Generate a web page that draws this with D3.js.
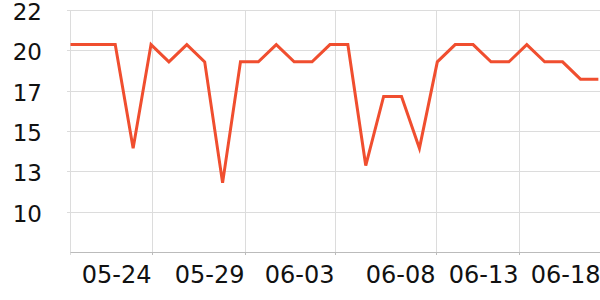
<!DOCTYPE html>
<html>
<head>
<meta charset="utf-8">
<script src="https://cdn.jsdelivr.net/npm/d3@7"></script>
<style>
  body { margin: 0; background: #fff; }
  svg text { font-family: "DejaVu Sans", sans-serif; fill: #111; }
  .ylab { font-size: 23px; }
  .xlab { font-size: 24px; }
</style>
</head>
<body>
<svg class="chart" width="600" height="300"></svg>
<script>
// one value per step, the first one sits left of the plot and gets clipped
var values = [20, 20, 20, 20, 14, 20, 19, 20, 19, 12, 19, 19, 20, 19, 19, 20,
              20, 13, 17, 17, 14, 19, 20, 20, 19, 19, 20, 19, 19, 18, 18];

var xTicks = [5.03, 10.23, 15.26, 20.9, 25.54, 30.15];
var xTickLabels = ['05-24', '05-29', '06-03', '06-08', '06-13', '06-18'];

var yTicks = [8, 10.33, 12.67, 15, 17.33, 19.67, 22];
var yTickLabels = ['', '10', '13', '15', '17', '20', '22'];

(function() {
  var svg = d3.select('.chart');
  var left = 70.5, right = 607.3, top = 10, bottom = 252;

  var x = d3.scaleLinear().domain([0.5, 30.5]).range([left, right]);
  var y = d3.scaleLinear().domain([8, 22]).range([bottom, top]);

  svg.append('defs').append('clipPath')
      .attr('id', 'plot')
    .append('rect')
      .attr('x', left)
      .attr('y', 0)
      .attr('width', 600 - left)
      .attr('height', bottom);

  // horizontal grid + labels
  var yAxis = svg.append('g');
  yTicks.forEach(function(t, i) {
    if (i === 0) return;
    var yy = Math.round(y(t)) + 0.5;
    yAxis.append('line')
      .attr('x1', 67).attr('x2', 600)
      .attr('y1', yy).attr('y2', yy)
      .attr('stroke', '#dcdcdc');
    yAxis.append('text')
      .attr('class', 'ylab')
      .attr('x', 42)
      .attr('y', yy + 1)
      .attr('dy', '0.35em')
      .attr('text-anchor', 'end')
      .text(yTickLabels[i]);
  });

  // vertical grid, ticks + labels
  var xAxis = svg.append('g');
  xAxis.append('line')
    .attr('x1', left).attr('x2', left)
    .attr('y1', top).attr('y2', bottom + 3)
    .attr('stroke', '#dcdcdc');
  xTicks.forEach(function(t, i) {
    var xx = Math.round(x(t)) + 0.5;
    xAxis.append('line')
      .attr('x1', xx).attr('x2', xx)
      .attr('y1', top).attr('y2', bottom)
      .attr('stroke', '#dcdcdc');
    xAxis.append('line')
      .attr('x1', xx).attr('x2', xx)
      .attr('y1', bottom).attr('y2', bottom + 3)
      .attr('stroke', '#bbb');
    xAxis.append('text')
      .attr('class', 'xlab')
      .attr('x', xx - 1)
      .attr('y', 283)
      .attr('text-anchor', 'end')
      .text(xTickLabels[i]);
  });
  xAxis.append('line')
    .attr('x1', left).attr('x2', 600)
    .attr('y1', bottom + 0.5).attr('y2', bottom + 0.5)
    .attr('stroke', '#bbb');

  var line = d3.line()
    .x(function(d, i) { return x(i); })
    .y(function(d) { return y(d); });

  svg.append('path')
    .datum(values)
    .attr('clip-path', 'url(#plot)')
    .attr('fill', 'none')
    .attr('stroke', '#f04e2f')
    .attr('stroke-width', 3)
    .attr('stroke-linejoin', 'miter')
    .attr('d', line);
})();
</script>
</body>
</html>
